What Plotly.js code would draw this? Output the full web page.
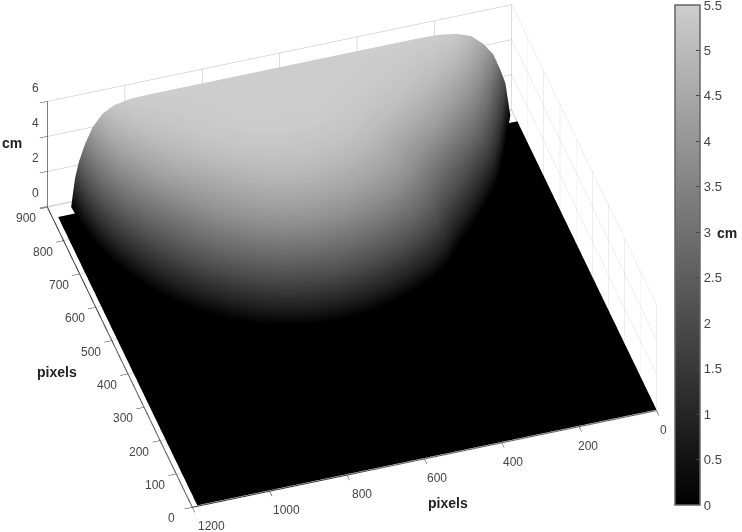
<!DOCTYPE html>
<html>
<head>
<meta charset="utf-8">
<script src="https://cdn.plot.ly/plotly-2.35.2.min.js"></script>
<style>
html,body{margin:0;padding:0;background:#fff;}
#chart{width:742px;height:532px;}
</style>
</head>
<body>
<div id="chart"></div>
<script>
// dome footprint
var domeCentreX = 640, domeEdgeY = 885, domeHalfY = 463;
var spokeAngles = [0,7.5,15,22.5,30,37.5,45,52.5,60,67.5,75,82.5,90,97.5,105,112.5,120,127.5,135,142.5,150,157.5,165,172.5,180];
var spokeHalfX = [505,505,505,505,505,505,505,505,505,505,505,505,505,500,502,522,530,525,509,523,543,565,580,600,630];
var ringFractions = [0,0.2,0.35,0.5,0.6,0.7,0.78,0.84,0.89,0.93,0.96,0.98,1];
// heights in cm, one row per spoke, one column per ring
var domeHeights = [
[5.5,5.5,5.5,5.5,5.5,5.47,5.3,4.95,4.3,3.4,2.5,1.6,0],
[5.5,5.5,5.5,5.46,5.4,5.3,5.0,4.55,3.9,3.1,2.3,1.5,0],
[5.5,5.5,5.49,5.42,5.31,5.1,4.7,4.15,3.5,2.8,2.05,1.3,0],
[5.5,5.5,5.49,5.39,5.22,4.91,4.4,3.8,3.1,2.45,1.75,1.15,0],
[5.5,5.5,5.48,5.35,5.14,4.73,4.18,3.45,2.8,2.1,1.42,0.92,0],
[5.5,5.5,5.48,5.32,5.06,4.57,3.93,3.2,2.6,2.0,1.35,0.9,0],
[5.5,5.5,5.47,5.29,4.99,4.41,3.85,3.2,2.6,2.0,1.35,0.9,0],
[5.5,5.5,5.47,5.26,4.93,4.4,3.85,3.2,2.6,2.0,1.35,0.9,0],
[5.5,5.5,5.47,5.24,4.9,4.4,3.85,3.2,2.6,2.0,1.35,0.9,0],
[5.5,5.5,5.47,5.22,4.9,4.4,3.85,3.2,2.6,2.0,1.35,0.9,0],
[5.5,5.5,5.46,5.21,4.9,4.4,3.85,3.2,2.6,2.0,1.35,0.9,0],
[5.5,5.5,5.46,5.2,4.9,4.4,3.85,3.2,2.6,2.0,1.35,0.9,0],
[5.5,5.5,5.45,5.2,4.9,4.4,3.85,3.2,2.6,2.0,1.35,0.9,0],
[5.5,5.5,5.46,5.2,4.9,4.4,3.85,3.2,2.6,2.0,1.35,0.9,0],
[5.5,5.5,5.46,5.21,4.9,4.4,3.85,3.2,2.6,2.0,1.35,0.9,0],
[5.5,5.5,5.47,5.22,4.9,4.4,3.85,3.2,2.6,2.0,1.35,0.9,0],
[5.5,5.5,5.47,5.24,4.9,4.4,3.85,3.2,2.6,2.0,1.35,0.9,0],
[5.5,5.5,5.47,5.26,4.93,4.4,3.85,3.2,2.6,2.0,1.35,0.9,0],
[5.5,5.5,5.47,5.29,4.99,4.41,3.85,3.2,2.6,2.0,1.35,0.9,0],
[5.5,5.5,5.48,5.32,5.06,4.57,3.93,3.2,2.6,2.0,1.35,0.9,0],
[5.5,5.5,5.48,5.35,5.14,4.73,4.18,3.45,2.8,2.1,1.42,0.92,0],
[5.5,5.5,5.49,5.39,5.22,4.91,4.4,3.8,3.1,2.45,1.75,1.15,0],
[5.5,5.5,5.49,5.42,5.31,5.1,4.7,4.2,3.6,2.9,2.1,1.35,0],
[5.5,5.5,5.5,5.46,5.4,5.3,5.1,4.65,4.0,3.25,2.3,1.6,0],
[5.5,5.5,5.5,5.5,5.5,5.47,5.3,5.0,4.4,3.7,2.7,1.9,0]
];
var floorX = [0,1187];
var floorY = [0,865];
var floorHeights = [[0,0],[0,0]];
var xTicks = [0,200,400,600,800,1000,1200];
var yTicks = [0,100,200,300,400,500,600,700,800,900];
var zTicks = [0,2,4,6];
var colorTicks = [0,0.5,1,1.5,2,2.5,3,3.5,4,4.5,5,5.5];
var colorTickLabels = ["0","0.5","1","1.5","2","2.5","3","3.5","4","4.5","5","5.5"];

var greys = [[0,"rgb(0,0,0)"],[1,"rgb(205,205,205)"]];
var flat = {ambient:1, diffuse:0, specular:0, roughness:1, fresnel:0};
var textCol = "#444444";
var tickFont = {family:"Liberation Sans, Arial, sans-serif", size:12, color:textCol};
var labelFont = {family:"Liberation Sans, Arial, sans-serif", size:14, color:"#222222"};

function axisOpts(range, dtick){
  return {
    range: range, dtick: dtick, tick0: 0, title: {text:""},
    showbackground: false, showgrid: true, gridcolor: "#bbbbbb", gridwidth: 1,
    showline: true, linecolor: "#333333", linewidth: 2,
    zeroline: false, showspikes: false, showticklabels: false,
    ticks: "outside", ticklen: 8, tickwidth: 1, tickcolor: "#333333"
  };
}

// spokes/rings -> x,y matrices for the dome
var domeX = spokeAngles.map(function(t, i){
  return ringFractions.map(function(r){ return domeCentreX + spokeHalfX[i]*r*Math.cos(t*Math.PI/180); });
});
var domeY = spokeAngles.map(function(t){
  return ringFractions.map(function(r){ return domeEdgeY - domeHalfY*r*Math.sin(t*Math.PI/180); });
});

var floor = {
  type: "surface", x: floorX, y: floorY, z: floorHeights,
  cmin: 0, cmax: 5.5, colorscale: greys, lighting: flat,
  showscale: false, hoverinfo: "skip"
};
var dome = {
  type: "surface", x: domeX, y: domeY, z: domeHeights,
  cmin: 0, cmax: 5.5, colorscale: greys, lighting: flat,
  hoverinfo: "skip",
  colorbar: {
    thickness: 25, thicknessmode: "pixels",
    len: 500, lenmode: "pixels",
    x: 675/742, xanchor: "left", xpad: 0,
    y: 1-505/532, yanchor: "bottom", ypad: 0,
    outlinecolor: "#666666", outlinewidth: 1.5,
    tickmode: "array", tickvals: colorTicks, ticktext: colorTickLabels,
    ticks: "inside", ticklen: 4, tickcolor: "#444444", ticklabeloverflow: "allow",
    tickfont: {family:"Liberation Sans, Arial, sans-serif", size:13, color:textCol}
  }
};

function label(text, px, py){
  return {text:"<b>"+text+"</b>", x:px/742, y:1-py/532, xref:"paper", yref:"paper",
    xanchor:"center", yanchor:"middle", showarrow:false, font:labelFont};
}
function tickText(val, x, y, z, dx, dy){
  return {x:x, y:y, z:z, text:String(val), showarrow:false, xshift:dx, yshift:dy,
    xanchor:"center", yanchor:"middle", font:tickFont};
}

// tick labels sit off the box edges like the oblique ones in the picture
var tickLabels = [];
xTicks.forEach(function(v){ tickLabels.push(tickText(v, v, 0, 0, 7 + v*0.01, -20)); });
yTicks.forEach(function(v){ tickLabels.push(tickText(v, 1200, v, 0, -21, -12)); });
zTicks.forEach(function(v){ tickLabels.push(tickText(v, 1200, 900, v, -12, 13)); });

var layout = {
  width: 742, height: 532,
  margin: {l:0, r:0, t:0, b:0, autoexpand:false},
  paper_bgcolor: "#ffffff",
  scene: {
    domain: {x:[0,0.9488], y:[0,1]},
    bgcolor: "#ffffff",
    aspectmode: "manual",
    aspectratio: {x:1.831, y:1.801, z:0.528},
    camera: {
      projection: {type:"orthographic"},
      up: {x:0, y:0, z:1},
      center: {x:0, y:0, z:-0.05},
      eye: {x:0.463, y:1.46, z:1.285}
    },
    xaxis: axisOpts([0,1200], 200),
    yaxis: axisOpts([900,0], 100),
    zaxis: axisOpts([-0.05,6], 2),
    annotations: tickLabels
  },
  annotations: [
    label("pixels", 448, 503),
    label("pixels", 57, 372),
    label("cm", 12, 143),
    label("cm", 727, 233)
  ]
};

Plotly.newPlot("chart", [floor, dome], layout, {displayModeBar:false});
</script>
</body>
</html>
